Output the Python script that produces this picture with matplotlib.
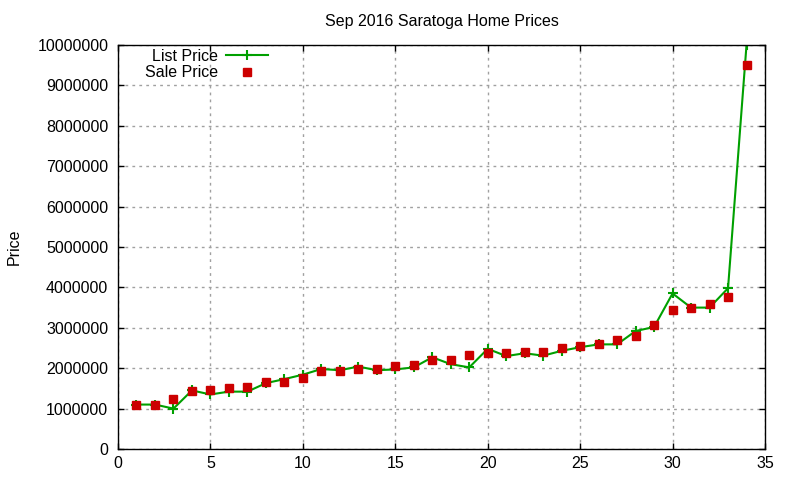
import numpy as np
import matplotlib
matplotlib.use('Agg')
import matplotlib.pyplot as plt
from matplotlib.ticker import FuncFormatter

plt.rcParams['font.family'] = ['Liberation Sans', 'DejaVu Sans']

# home index 1..34
homes = list(range(1, 35))
list_price = [1100000, 1100000, 1000000, 1450000, 1350000, 1420000, 1420000, 1630000, 1730000, 1840000,
              1980000, 1950000, 2040000, 1950000, 1970000, 2020000, 2270000, 2100000, 2020000, 2480000,
              2300000, 2370000, 2310000, 2430000, 2520000, 2590000, 2590000, 2920000, 3020000, 3850000,
              3500000, 3500000, 3980000, 10000000]
sale_price = [1100000, 1100000, 1230000, 1430000, 1450000, 1510000, 1530000, 1650000, 1670000, 1750000,
              1920000, 1940000, 1970000, 1970000, 2060000, 2090000, 2210000, 2210000, 2330000, 2380000,
              2370000, 2400000, 2400000, 2500000, 2560000, 2600000, 2690000, 2800000, 3080000, 3430000,
              3500000, 3600000, 3770000, 9500000]

xticks = np.arange(0, 36, 5)
yticks = np.arange(0, 10000001, 1000000)

fs = 11.5
fig = plt.figure(figsize=(8, 4.8), dpi=100)
ax = fig.add_axes([118 / 800, 31 / 480, 647 / 800, 404 / 480])

ax.plot(homes, list_price, color='#00a000', lw=1.5, marker='+', ms=7, mew=1.5, label='List Price')
ax.plot(homes, sale_price, ls='none', color='#cc0000', marker='s', ms=5.2, label='Sale Price')

ax.set_xlim(0, 35)
ax.set_ylim(0, 10000000)
ax.set_xticks(xticks)
ax.set_yticks(yticks)
ax.yaxis.set_major_formatter(FuncFormatter(lambda v, p: '%d' % v))
ax.tick_params(direction='in', top=True, right=True, length=4, labelsize=fs, width=1)
ax.tick_params(axis='y', pad=7)
ax.tick_params(axis='x', pad=5)
ax.grid(True, color='#a0a0a0', ls=(0, (2, 3)), lw=1)
for s in ax.spines.values():
    s.set_linewidth(1)

ax.set_title('Sep 2016 Saratoga Home Prices', fontsize=fs, pad=14)
ax.set_ylabel('Price', fontsize=fs, labelpad=11)

leg = ax.legend(loc='upper left', bbox_to_anchor=(0.0417, 0.99), frameon=False, markerfirst=False,
                fontsize=fs, handlelength=2.6, labelspacing=0.07, handletextpad=0.5,
                borderpad=0, borderaxespad=0)

fig.savefig('out.png', dpi=100)
